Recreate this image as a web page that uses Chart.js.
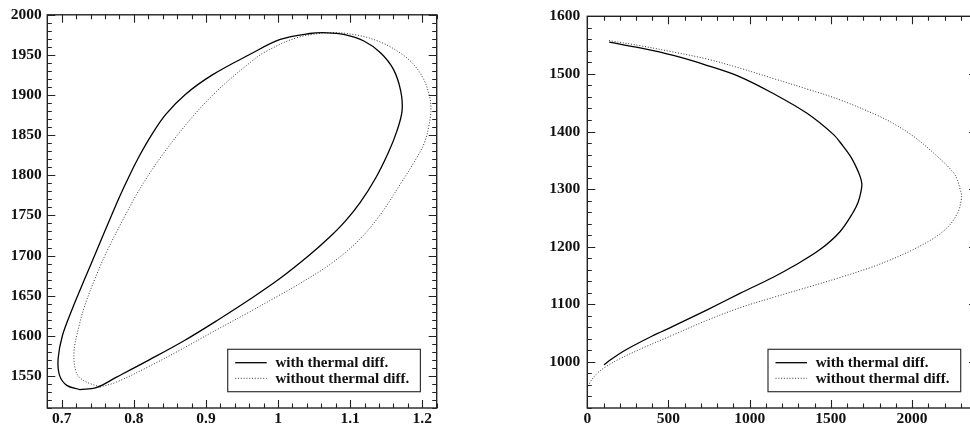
<!DOCTYPE html>
<html>
<head>
<meta charset="utf-8">
<script src="https://cdn.jsdelivr.net/npm/chart.js@4/dist/chart.umd.min.js"></script>
<style>
  html, body { margin: 0; padding: 0; background: #fff; overflow: hidden; width: 970px; height: 428px; }
  canvas { position: absolute; top: 0; }
</style>
</head>
<body>
<canvas id="c1" width="485" height="428" style="left:0px"></canvas>
<canvas id="c2" width="500" height="428" style="left:485px"></canvas>
<script>
// ---------- data ----------
const seriesLabels = ['with thermal diff.', 'without thermal diff.'];

// left panel (closed loops)
const leftWithX = [0.725, 0.748, 0.776, 0.822, 0.869, 0.915, 0.961, 1.003, 1.044, 1.072, 1.093, 1.114, 1.135, 1.153, 1.165, 1.172, 1.170, 1.160, 1.142, 1.119, 1.091, 1.068, 1.044, 1.003, 0.960, 0.910, 0.871, 0.844, 0.824, 0.808, 0.794, 0.781, 0.769, 0.7475, 0.7318, 0.7146, 0.701, 0.695, 0.697, 0.707, 0.725];
const leftWithY = [1533, 1535.5, 1548.5, 1570.3, 1593.5, 1618.8, 1645.5, 1671.6, 1700.9, 1723.3, 1742.5, 1766.2, 1796, 1828.4, 1855.7, 1880.6, 1905.5, 1932, 1952.7, 1967.3, 1975.5, 1977.6, 1976.7, 1969.3, 1950.2, 1925.7, 1900.5, 1875.6, 1849.5, 1824.6, 1799.8, 1774.9, 1750, 1704, 1670.8, 1633.5, 1600.4, 1571.3, 1550.6, 1538.2, 1533];
const leftWithoutX = [0.753, 0.776, 0.822, 0.869, 0.915, 0.961, 1.003, 1.026, 1.072, 1.111, 1.142, 1.171, 1.190, 1.203, 1.210, 1.212, 1.210, 1.202, 1.188, 1.169, 1.142, 1.109, 1.072, 1.026, 0.980, 0.961, 0.933, 0.910, 0.884, 0.860, 0.839, 0.820, 0.803, 0.788, 0.762, 0.746, 0.732, 0.723, 0.717, 0.720, 0.730, 0.753];
const leftWithoutY = [1536.1, 1542.3, 1562.2, 1584.6, 1607.6, 1630, 1651.1, 1662.9, 1688.9, 1718.3, 1751.2, 1791, 1818.4, 1840.8, 1865.7, 1882.2, 1898.9, 1919.5, 1938.2, 1952.7, 1966, 1974.8, 1977.6, 1971.4, 1952.7, 1940.3, 1919.5, 1900.5, 1875.6, 1849.5, 1824.6, 1799.8, 1774.9, 1750, 1704, 1670.8, 1637.7, 1608.6, 1579.6, 1554.7, 1544.4, 1536.1];

// right panel (open curves)
const rightWithX = [103, 150, 220, 283, 400, 530, 735, 940, 1145, 1268, 1433, 1556, 1638, 1669, 1685, 1691, 1679, 1648, 1618, 1574, 1515, 1351, 1145, 940, 735, 530, 325, 135];
const rightWithY = [995, 1005, 1018, 1028, 1045, 1062, 1090, 1119, 1147, 1166, 1195, 1226, 1260, 1278, 1295, 1309, 1323, 1343, 1358, 1375, 1395, 1432, 1466, 1495, 1515, 1532, 1545, 1555];
const rightWithoutX = [6, 25, 60, 110, 190, 325, 530, 735, 940, 1145, 1350, 1556, 1741, 1844, 2007, 2151, 2233, 2284, 2298, 2305, 2295, 2280, 2254, 2151, 2007, 1884, 1802, 1556, 1350, 1145, 940, 735, 530, 325, 129];
const rightWithoutY = [958, 968, 980, 991, 1004, 1022, 1047, 1072, 1094, 1112, 1129, 1146.5, 1163.5, 1174.5, 1195, 1218, 1238, 1260.5, 1274, 1289, 1300.5, 1315, 1329, 1358, 1392, 1414, 1426, 1455, 1474, 1492, 1510, 1526, 1538, 1549, 1558];

// tick labels
const leftXTicks = [0.7, 0.8, 0.9, 1, 1.1, 1.2];
const leftYTicks = [1550, 1600, 1650, 1700, 1750, 1800, 1850, 1900, 1950, 2000];
const rightXTicks = [0, 500, 1000, 1500, 2000];
const rightYTicks = [1000, 1100, 1200, 1300, 1400, 1500, 1600];

// ---------- helpers ----------
const zip = (xs, ys) => xs.map((x, i) => ({ x: x, y: ys[i] }));
const TICK_FONT = { family: 'Liberation Serif', weight: 'bold', size: 15.5 };
const INK = '#111';

const framePlugin = {
  id: 'frame',
  afterDatasetsDraw(chart) {
    const o = chart.options.plugins.frame;
    const { ctx, chartArea: a, scales: { x, y } } = chart;
    ctx.save();
    ctx.strokeStyle = '#222';
    ctx.lineWidth = 1.4;
    ctx.strokeRect(a.left, a.top, a.right - a.left, a.bottom - a.top);
    ctx.lineWidth = 1.1;
    ctx.beginPath();
    const isMajor = (v, arr) => arr.some(m => Math.abs(m - v) < 1e-6);
    const nx = Math.round((o.xMax - o.xMin) / o.xMinor);
    for (let i = 0; i <= nx; i++) {
      const v = o.xMin + i * o.xMinor;
      const px = Math.round(x.getPixelForValue(v)) + 0.5;
      const L = isMajor(v, o.xMajor) ? 8 : 4.5;
      ctx.moveTo(px, a.bottom); ctx.lineTo(px, a.bottom - L);
      ctx.moveTo(px, a.top); ctx.lineTo(px, a.top + L);
    }
    const ny = Math.round((o.yMax - o.yMin) / o.yMinor);
    for (let i = 0; i <= ny; i++) {
      const v = o.yMin + i * o.yMinor;
      const py = Math.round(y.getPixelForValue(v)) + 0.5;
      const L = isMajor(v, o.yMajor) ? 8 : 4.5;
      ctx.moveTo(a.left, py); ctx.lineTo(a.left + L, py);
      ctx.moveTo(a.right, py); ctx.lineTo(a.right - L, py);
    }
    ctx.stroke();

    // legend box
    const w = 192.7, h = 42.4;
    const bx = a.right - 16.3 - w, by = a.bottom - 16.3 - h;
    ctx.fillStyle = '#fff';
    ctx.fillRect(bx, by, w, h);
    ctx.strokeStyle = '#333';
    ctx.lineWidth = 1.2;
    ctx.strokeRect(bx, by, w, h);
    const rows = [13.4, 29];
    chart.data.datasets.forEach((ds, i) => {
      const ry = by + rows[i];
      ctx.save();
      ctx.strokeStyle = ds.borderColor;
      ctx.lineWidth = ds.borderWidth;
      ctx.setLineDash(ds.borderDash || []);
      ctx.beginPath();
      ctx.moveTo(bx + 7.5, ry); ctx.lineTo(bx + 39, ry);
      ctx.stroke();
      ctx.restore();
      ctx.fillStyle = INK;
      ctx.font = 'bold 15px "Liberation Serif"';
      ctx.textBaseline = 'middle';
      ctx.textAlign = 'left';
      ctx.fillText(ds.label, bx + 47.7, ry + 0.5);
    });
    ctx.restore();
  }
};

function makeChart(el, cfg) {
  return new Chart(el, {
    type: 'scatter',
    data: {
      datasets: [
        { label: seriesLabels[0], data: zip(cfg.wx, cfg.wy), showLine: true, borderColor: '#000', borderWidth: 1.3, pointRadius: 0, tension: 0.35, fill: false },
        { label: seriesLabels[1], data: zip(cfg.ox, cfg.oy), showLine: true, borderColor: '#333', borderWidth: 1, borderDash: [1, 1.8], pointRadius: 0, tension: 0.35, fill: false }
      ]
    },
    options: {
      responsive: false,
      animation: false,
      events: [],
      layout: { padding: { top: 12, right: cfg.padRight, left: 0, bottom: 0 } },
      plugins: {
        legend: { display: false },
        tooltip: { enabled: false },
        frame: { xMin: cfg.xMin, xMax: cfg.xMax, xMinor: cfg.xMinor, xMajor: cfg.xTicks,
                 yMin: cfg.yMin, yMax: cfg.yMax, yMinor: cfg.yMinor, yMajor: cfg.yTicks }
      },
      scales: {
        x: {
          type: 'linear', min: cfg.xMin, max: cfg.xMax,
          grid: { display: false, drawTicks: false }, border: { display: false },
          afterFit: s => { s.height = 20; },
          afterBuildTicks: s => { s.ticks = cfg.xTicks.map(v => ({ value: v })); },
          ticks: { font: TICK_FONT, color: INK, padding: 2, maxRotation: 0, autoSkip: false, callback: v => String(v) }
        },
        y: {
          type: 'linear', min: cfg.yMin, max: cfg.yMax,
          grid: { display: false, drawTicks: false }, border: { display: false },
          afterFit: s => { s.width = cfg.yAxisW; },
          afterBuildTicks: s => { s.ticks = cfg.yTicks.map(v => ({ value: v })); },
          ticks: { font: TICK_FONT, color: INK, padding: cfg.yPad, autoSkip: false, callback: v => String(v) }
        }
      }
    },
    plugins: [framePlugin]
  });
}

makeChart(document.getElementById('c1'), {
  wx: leftWithX, wy: leftWithY, ox: leftWithoutX, oy: leftWithoutY,
  xMin: 0.68, xMax: 1.22, xMinor: 0.02, xTicks: leftXTicks,
  yMin: 1510, yMax: 2000, yMinor: 10, yTicks: leftYTicks,
  yAxisW: 47.3, yPad: 5.5, padRight: 48.3
});

makeChart(document.getElementById('c2'), {
  wx: rightWithX, wy: rightWithY, ox: rightWithoutX, oy: rightWithoutY,
  xMin: 0, xMax: 2400, xMinor: 100, xTicks: rightXTicks,
  yMin: 920, yMax: 1600, yMinor: 20, yTicks: rightYTicks,
  yAxisW: 102.3, yPad: 7, padRight: 8
});
</script>
</body>
</html>
